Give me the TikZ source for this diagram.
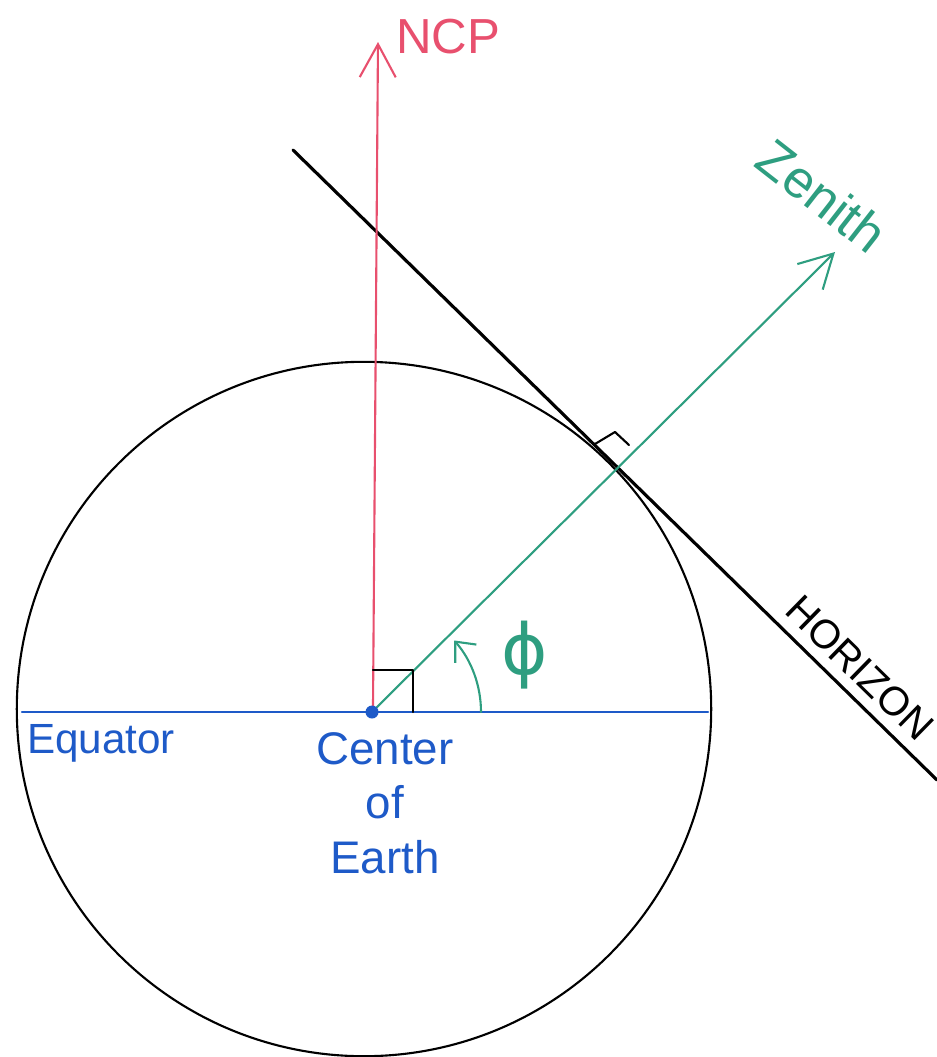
\documentclass[tikz,border=0pt]{standalone}
\usepackage{fontspec}
\setmainfont{Liberation Sans}
\newfontfamily\phifont{DejaVu Sans}
\usetikzlibrary{arrows.meta}
\definecolor{ncpred}{HTML}{E8506E}
\definecolor{zengreen}{HTML}{2E9E80}
\definecolor{eqblue}{HTML}{1E5AC8}
\begin{document}
\begin{tikzpicture}[x=0.01cm,y=-0.01cm,line cap=round,line join=round,
  thinline/.style={line width=0.6pt},
  bigtip/.style={-{Straight Barb[length=3.3mm,width=3.6mm,line width=0.6pt]}},
  smalltip/.style={-{Straight Barb[length=1.6mm,width=2.8mm,line width=0.6pt]}},
  lbl/.style={inner sep=0pt}]
\useasboundingbox (0,0) rectangle (937,1057);
% coordinates
\coordinate (C) at (364,709);
\coordinate (O) at (372,712);
\coordinate (Nbot) at (373,706);
\coordinate (Ntop) at (378,42);
\coordinate (Ztop) at (835,252);
\coordinate (H1) at (293,150);
\coordinate (H2) at (937,780);
\coordinate (E1) at (22,712);
\coordinate (E2) at (708,712);
\coordinate (P0) at (481,712);
% earth
\draw[thinline] (C) circle[radius=3.47cm];
% horizon
\draw[line width=0.9pt] (H1) -- (H2);
\node[lbl,rotate=-44.4,font=\fontsize{11.5}{14}\selectfont] (hor) at (860,668) {HORIZON};
% NCP
\draw[ncpred,thinline,bigtip] (Nbot) -- (Ntop);
\node[lbl,ncpred,font=\fontsize{14}{17}\selectfont] (ncp) at (448,37) {NCP};
% zenith
\draw[zengreen,thinline,bigtip] (O) -- (Ztop);
\node[lbl,zengreen,rotate=-38,font=\fontsize{15}{18}\selectfont] (zen) at (822,196) {Zenith};
% equator
\draw[eqblue,thinline] (E1) -- (E2);
\fill[eqblue] (O) circle[radius=0.065cm];
\node[lbl,eqblue,font=\fontsize{12}{14}\selectfont] (eq) at (101,743) {Equator};
\node[lbl,eqblue,align=center,font=\fontsize{13}{15.5}\selectfont] (coe) at (385,803) {Center\\of\\Earth};
% right angle marks
\draw[thinline] (373,670) -- (413,670) -- (413,712);
\draw[thinline] (595,444) -- (615,432) -- (629,445);
% phi
\draw[zengreen,thinline,smalltip] (P0) arc[start angle=0,end angle=41,radius=1.09cm];
\node[lbl,zengreen,font=\phifont\fontsize{20}{24}\selectfont] (phi) at (525,655) {ϕ};
\end{tikzpicture}
\end{document}
